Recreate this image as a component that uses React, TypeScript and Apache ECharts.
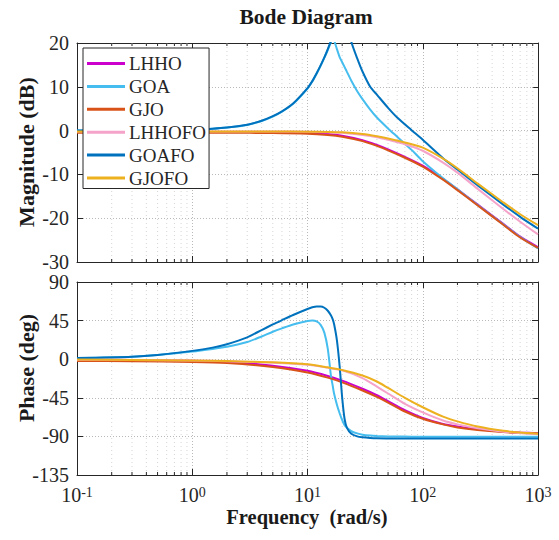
import React, { useEffect, useRef } from 'react';
import * as echarts from 'echarts';

const FONT = 'Times New Roman';
const INK = '#262626';

// Series names and colours
const NAMES = ['LHHO', 'GOA', 'GJO', 'LHHOFO', 'GOAFO', 'GJOFO'];
const COLORS = ['#cc00cc', '#45bdee', '#d95319', '#f5a3c9', '#0072bd', '#edb120'];

// Frequency grids (rad/s)
const W_SMOOTH = [0.1, 0.3, 1, 2, 5, 10, 15, 20, 30, 40, 50, 70, 100, 150, 200, 300, 500, 700, 1000];
const W_RES = [0.1, 0.3, 0.5, 1, 1.5, 2, 3, 4, 5, 6, 7.5, 10, 11, 12, 13, 14, 15, 16, 16.5, 17, 18, 19, 20, 21, 22, 24, 27, 30, 35, 40, 50, 60, 80, 100, 150, 200, 300, 500, 700, 1000];

// Magnitude (dB) and phase (deg)
const LHHO_MAG = [-0.3, -0.3, -0.3, -0.3, -0.35, -0.5, -0.8, -1.2, -2.2, -3.3, -4.3, -6.0, -8.0, -11.0, -13.4, -16.9, -21.3, -24.2, -26.6];
const LHHO_PH = [-0.3, -0.8, -1.8, -3.0, -7.5, -13.5, -19.5, -25, -34.5, -42, -49, -59.5, -68.5, -75.5, -78.5, -81.8, -84.5, -85.5, -86.3];

const GJO_MAG = [-0.5, -0.5, -0.5, -0.5, -0.55, -0.7, -1.0, -1.4, -2.4, -3.5, -4.5, -6.2, -8.2, -11.2, -13.6, -17.1, -21.5, -24.4, -26.8];
const GJO_PH = [-2.0, -2.3, -3.2, -4.5, -9.0, -15.5, -21.5, -27, -36.5, -44, -50.5, -61, -69.5, -76, -79.5, -82.5, -85, -86, -86.7];

const LHHOFO_MAG = [-0.2, -0.2, -0.2, -0.2, -0.2, -0.25, -0.35, -0.5, -1.0, -1.5, -2.1, -3.1, -4.6, -7.3, -9.6, -13.3, -17.9, -20.8, -23.7];
const LHHOFO_PH = [-0.5, -1.0, -1.5, -2.3, -4.0, -6.5, -10, -13, -22, -32, -40, -52, -62, -71.5, -76, -80.5, -84.5, -86, -87.5];

const GJOFO_MAG = [-0.2, -0.2, -0.2, -0.2, -0.2, -0.25, -0.3, -0.4, -0.8, -1.3, -1.8, -2.7, -3.9, -6.4, -8.6, -12.1, -16.4, -19.1, -21.6];
const GJOFO_PH = [-0.3, -0.8, -1.5, -2.2, -3.5, -5.8, -9.5, -12.5, -19, -26, -33.5, -45, -56, -67, -72.5, -78.5, -83.5, -85.5, -87];

const GOA_MAG = [0.0, 0.0, 0.05, 0.2, 0.43, 0.7, 1.3, 2.2, 3.2, 4.3, 6.1, 9.6, 11.2, 13.0, 14.8, 16.6, 18.4, 20.2, 21.0, 20.6, 18.6, 16.8, 15.6, 14.5, 13.4, 11.4, 9.0, 7.2, 4.8, 3.0, 0.5, -1.4, -4.4, -7.0, -10.9, -13.4, -17.0, -21.4, -24.3, -26.9];
const GOA_PH = [1.5, 3, 5, 9, 12, 14.5, 20, 26.5, 32, 36, 40.5, 44.5, 45, 44, 40, 31, 12, -20, -30, -40, -53, -63, -71, -77, -80, -84, -86.5, -88, -89, -89.5, -90, -90.2, -90.3, -90.4, -90.5, -90.5, -90.5, -90.5, -90.5, -90.5];

const GOAFO_MAG = [0.0, 0.0, 0.05, 0.2, 0.45, 0.72, 1.35, 2.25, 3.3, 4.4, 6.2, 9.7, 11.3, 13.1, 14.9, 16.7, 18.6, 20.6, 21.8, 23, 25.5, 27.5, 28.5, 28, 26, 20.3, 16.5, 13.5, 10.0, 8.2, 5.2, 3.0, 0.1, -2.1, -6.3, -8.9, -12.5, -16.9, -19.7, -22.4];
const GOAFO_PH = [1.5, 3, 5, 9.7, 13.5, 17.5, 25.5, 34, 40.5, 45.5, 51.5, 58.5, 60.5, 61.5, 61.5, 60, 56.5, 51, 47, 41, 22, -8, -45, -70, -80, -87, -90, -91, -91.8, -92.2, -92.4, -92.5, -92.5, -92.5, -92.5, -92.5, -92.5, -92.5, -92.5, -92.5];

// Axis ranges and ticks
const MAG_RANGE = [-30, 20];
const MAG_STEP = 10;
const PH_RANGE = [-135, 90];
const PH_STEP = 45;
const X_RANGE = [0.1, 1000];
const MINOR_X = [0.2, 0.3, 0.4, 0.5, 0.6, 0.7, 0.8, 0.9, 2, 3, 4, 5, 6, 7, 8, 9, 20, 30, 40, 50, 60, 70, 80, 90, 200, 300, 400, 500, 600, 700, 800, 900];

const SERIES_DATA = [
  { w: W_SMOOTH, mag: LHHO_MAG, ph: LHHO_PH },
  { w: W_RES, mag: GOA_MAG, ph: GOA_PH },
  { w: W_SMOOTH, mag: GJO_MAG, ph: GJO_PH },
  { w: W_SMOOTH, mag: LHHOFO_MAG, ph: LHHOFO_PH },
  { w: W_RES, mag: GOAFO_MAG, ph: GOAFO_PH },
  { w: W_SMOOTH, mag: GJOFO_MAG, ph: GJOFO_PH },
];

const zip = (xs: number[], ys: number[]) => xs.map((x, i) => [x, ys[i]]);

function xAxisDef(gridIndex: number, position: 'top' | 'bottom', labels: boolean, split: boolean) {
  return {
    type: 'log',
    logBase: 10,
    gridIndex,
    position,
    min: X_RANGE[0],
    max: X_RANGE[1],
    axisLine: { show: true, onZero: false, lineStyle: { color: INK, width: 1 } },
    axisTick: { show: true, inside: true, length: 6, lineStyle: { color: INK } },
    splitLine: { show: split, lineStyle: { color: '#b9b9b9', width: 1, type: [1, 2] } },
    axisLabel: labels
      ? {
          show: true,
          margin: 10,
          color: INK,
          fontFamily: FONT,
          formatter: (v: number) => {
            const e = Math.round(Math.log10(v));
            return '{b|10}{s|' + e + '}';
          },
          rich: {
            b: { fontSize: 20, fontFamily: FONT, color: INK, lineHeight: 20, padding: [5, 0, 0, 0], verticalAlign: 'bottom' },
            s: { fontSize: 14, fontFamily: FONT, color: INK, lineHeight: 14, verticalAlign: 'top' },
          },
        }
      : { show: false },
  };
}

function yAxisDef(gridIndex: number, position: 'left' | 'right', range: number[], step: number, labels: boolean) {
  return {
    type: 'value',
    gridIndex,
    position,
    min: range[0],
    max: range[1],
    interval: step,
    axisLine: { show: true, lineStyle: { color: INK, width: 1 } },
    axisTick: { show: true, inside: true, length: 6, lineStyle: { color: INK } },
    splitLine: { show: labels, lineStyle: { color: '#b9b9b9', width: 1, type: [1, 2] } },
    axisLabel: labels ? { show: true, color: INK, fontFamily: FONT, fontSize: 20, margin: 8 } : { show: false },
  };
}

function minorSeries(xIdx: number, yIdx: number, range: number[]) {
  return {
    type: 'custom',
    xAxisIndex: xIdx,
    yAxisIndex: yIdx,
    silent: true,
    z: 1,
    clip: false,
    encode: { x: 0, y: 1 },
    data: MINOR_X.map((v) => [v, range[0]]),
    renderItem: (_p: any, api: any) => {
      const x = api.value(0);
      const top = api.coord([x, range[1]]);
      const bot = api.coord([x, range[0]]);
      return {
        type: 'group',
        children: [
          { type: 'line', shape: { x1: top[0], y1: top[1], x2: bot[0], y2: bot[1] }, style: { stroke: '#d6d6d6', lineWidth: 1, lineDash: [1, 3] } },
          { type: 'line', shape: { x1: top[0], y1: top[1], x2: top[0], y2: top[1] + 3 }, style: { stroke: INK, lineWidth: 1 } },
          { type: 'line', shape: { x1: bot[0], y1: bot[1], x2: bot[0], y2: bot[1] - 3 }, style: { stroke: INK, lineWidth: 1 } },
        ],
      };
    },
  };
}

function label(text: string, x: number, y: number, size: number, rotate: boolean) {
  return {
    type: 'text',
    x,
    y,
    rotation: rotate ? Math.PI / 2 : 0,
    style: {
      text,
      fontFamily: FONT,
      fontSize: size,
      fontWeight: 'bold',
      fill: '#1a1a1a',
      textAlign: 'center',
      textVerticalAlign: 'middle',
    },
  };
}

export default function App() {
  const ref = useRef<HTMLDivElement>(null);
  useEffect(() => {
    if (!ref.current) return;
    const chart = echarts.init(ref.current, null, { renderer: 'svg' });
    const lineSeries: any[] = [];
    SERIES_DATA.forEach((s, i) => {
      const common = {
        type: 'line',
        name: NAMES[i],
        symbol: 'none',
        smooth: 0.25,
        clip: true,
        z: 3,
        lineStyle: { color: COLORS[i], width: 2 },
        itemStyle: { color: COLORS[i] },
      };
      lineSeries.push({ ...common, xAxisIndex: 0, yAxisIndex: 0, data: zip(s.w, s.mag) });
      lineSeries.push({ ...common, xAxisIndex: 2, yAxisIndex: 2, data: zip(s.w, s.ph) });
    });

    const option: any = {
      animation: false,
      backgroundColor: '#ffffff',
      textStyle: { fontFamily: FONT },
      grid: [
        { left: 77, top: 43, width: 461, height: 219, show: true, backgroundColor: '#fff', borderWidth: 0 },
        { left: 77, top: 282, width: 461, height: 193, show: true, backgroundColor: '#fff', borderWidth: 0 },
      ],
      xAxis: [
        xAxisDef(0, 'bottom', false, true),
        xAxisDef(0, 'top', false, false),
        xAxisDef(1, 'bottom', true, true),
        xAxisDef(1, 'top', false, false),
      ],
      yAxis: [
        yAxisDef(0, 'left', MAG_RANGE, MAG_STEP, true),
        yAxisDef(0, 'right', MAG_RANGE, MAG_STEP, false),
        yAxisDef(1, 'left', PH_RANGE, PH_STEP, true),
        yAxisDef(1, 'right', PH_RANGE, PH_STEP, false),
      ],
      legend: {
        data: NAMES,
        orient: 'vertical',
        left: 83,
        top: 48,
        backgroundColor: '#fff',
        borderColor: INK,
        borderWidth: 1,
        borderRadius: 0,
        padding: [6, 3, 1, 4],
        itemGap: 3.9,
        itemWidth: 38,
        itemHeight: 3,
        icon: 'rect',
        textStyle: { fontFamily: FONT, fontSize: 19, lineHeight: 19, color: INK, padding: [0, 0, 0, -1] },
        z: 10,
      },
      graphic: [
        label('Bode Diagram', 306, 17, 21.5, false),
        label('Magnitude (dB)', 26, 152, 22, true),
        label('Phase (deg)', 26, 368, 22, true),
        label('Frequency  (rad/s)', 307, 517, 20.5, false),
      ],
      series: [minorSeries(0, 0, MAG_RANGE), minorSeries(2, 2, PH_RANGE), ...lineSeries],
    };
    chart.setOption(option);
    return () => chart.dispose();
  }, []);
  return <div ref={ref} style={{ position: 'fixed', left: 0, top: 0, width: 559, height: 540, background: '#fff' }} />;
}
